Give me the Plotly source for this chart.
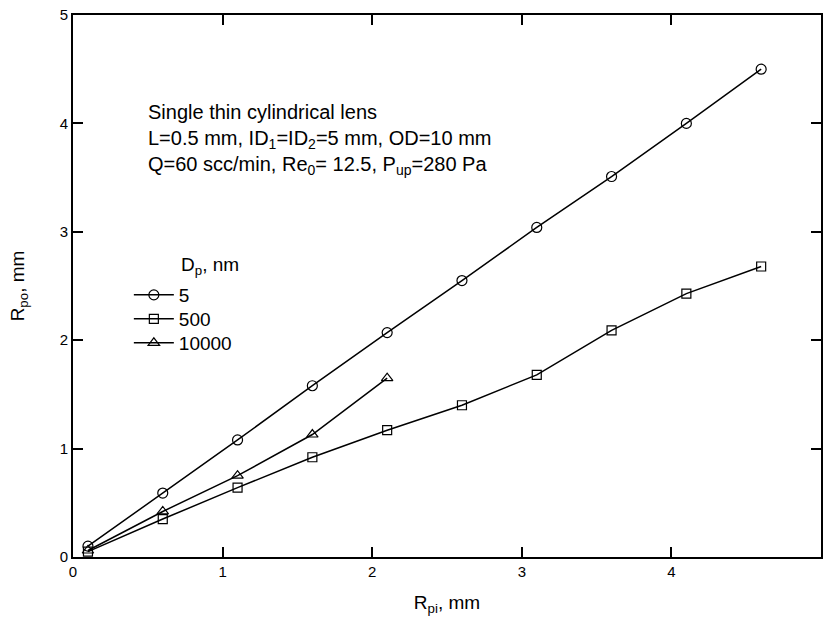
import plotly.graph_objects as go

x_vals = [0.1, 0.6, 1.1, 1.6, 2.1, 2.6, 3.1, 3.6, 4.1, 4.6]
y_5nm = [0.10, 0.59, 1.08, 1.58, 2.07, 2.55, 3.04, 3.51, 4.00, 4.50]
y_500nm = [0.05, 0.35, 0.64, 0.92, 1.17, 1.40, 1.68, 2.09, 2.43, 2.68]
x_10000 = [0.1, 0.6, 1.1, 1.6, 2.1]
y_10000nm = [0.06, 0.42, 0.75, 1.13, 1.65]

series = [
    ("5", x_vals, y_5nm, "circle-open", 10, "legend"),
    ("500", x_vals, y_500nm, "square-open", 9, "legend2"),
    ("10000", x_10000, y_10000nm, "triangle-up-open", 10, "legend3"),
]

FONT = "Liberation Sans, Arial, sans-serif"

# plot area in pixels: x 73..823, y 15..557
def px_x(p):
    return (p - 73) / 750

def px_y(p):
    return (557 - p) / 542

fig = go.Figure()
for name, xs, ys, sym, sz, lg in series:
    fig.add_trace(go.Scatter(
        x=xs, y=ys, name=name, mode="lines+markers", legend=lg,
        line=dict(color="black", width=1.5),
        marker=dict(symbol=sym, size=sz, color="black", line=dict(width=1.2, color="black")),
    ))

axis_common = dict(
    showgrid=False, zeroline=False, showline=True, linecolor="black", linewidth=2,
    mirror="ticks", ticks="inside", ticklen=10, tickwidth=1.5, tickcolor="black",
    tickfont=dict(family=FONT, size=15, color="black"),
)

legend_common = dict(
    font=dict(size=19, family=FONT, color="black"),
    xanchor="left", yanchor="middle", bgcolor="rgba(0,0,0,0)", itemwidth=40,
    x=px_x(129),
)

fig.update_layout(
    width=824, height=623,
    margin=dict(l=73, r=1, t=15, b=66),
    paper_bgcolor="white", plot_bgcolor="white",
    font=dict(family=FONT, color="black"),
    xaxis=dict(range=[0, 5], dtick=1, title=dict(text="R<sub>pi</sub>, mm", font=dict(size=19), standoff=17), **axis_common),
    yaxis=dict(range=[0, 5], dtick=1, title=dict(text="R<sub>po</sub>, mm", font=dict(size=19), standoff=30), **axis_common),
    showlegend=True,
    legend=dict(y=px_y(295), **legend_common),
    legend2=dict(y=px_y(319), **legend_common),
    legend3=dict(y=px_y(343), **legend_common),
    annotations=[
        dict(
            text="Single thin cylindrical lens<br>L=0.5 mm, ID<sub>1</sub>=ID<sub>2</sub>=5 mm, OD=10 mm<br>Q=60 scc/min, Re<sub>0</sub>= 12.5, P<sub>up</sub>=280 Pa",
            xref="paper", yref="paper", x=px_x(146), y=px_y(99),
            xanchor="left", yanchor="top", align="left", showarrow=False,
            font=dict(size=20, family=FONT, color="black"),
        ),
        dict(
            text="D<sub>p</sub>, nm",
            xref="paper", yref="paper", x=px_x(179), y=px_y(266),
            xanchor="left", yanchor="middle", align="left", showarrow=False,
            font=dict(size=19, family=FONT, color="black"),
        ),
    ],
)

fig.write_html("out.html")
